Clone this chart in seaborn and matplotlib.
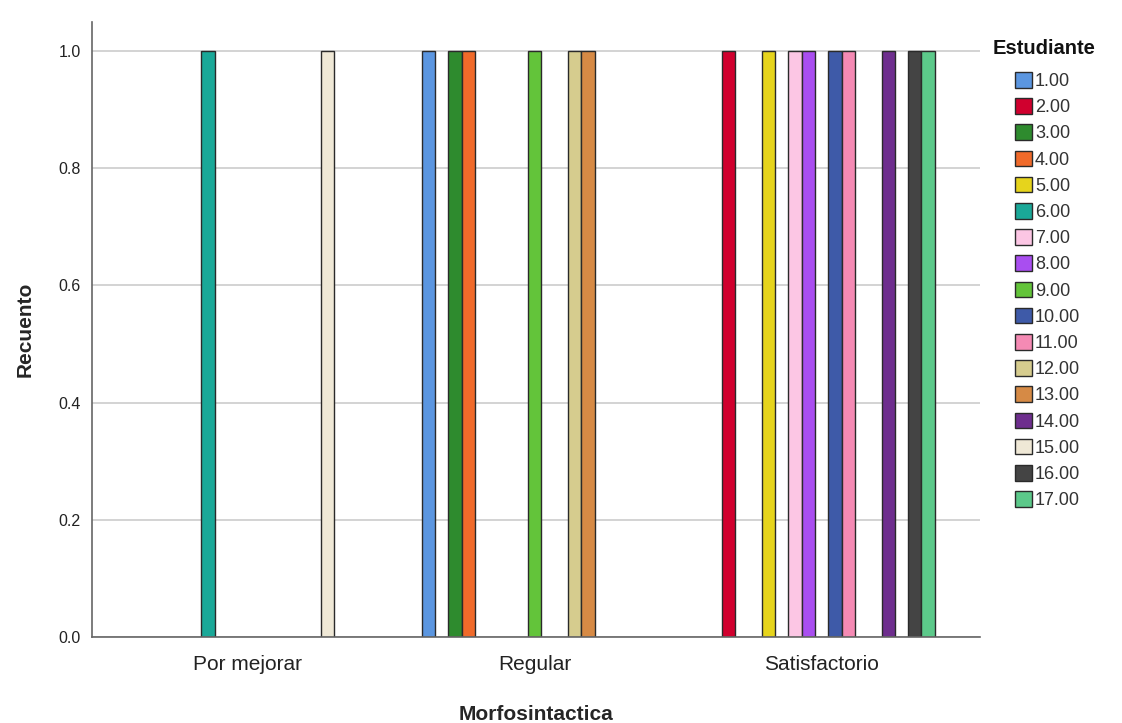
import matplotlib
matplotlib.use("Agg")
import matplotlib.pyplot as plt
import seaborn as sns
import pandas as pd

# data
categorias = ["Por mejorar", "Regular", "Satisfactorio"]
estudiantes = ["%.2f" % i for i in range(1, 18)]
categoria_por_estudiante = [
    "Regular", "Satisfactorio", "Regular", "Regular", "Satisfactorio",
    "Por mejorar", "Satisfactorio", "Satisfactorio", "Regular", "Satisfactorio",
    "Satisfactorio", "Regular", "Regular", "Satisfactorio", "Por mejorar",
    "Satisfactorio", "Satisfactorio",
]
recuento = [1] * 17

colores = [
    "#5b96e0", "#d0002e", "#2e8b2e", "#f06a2a", "#e6d41c", "#1aa898",
    "#fcc6e4", "#a94ef0", "#63c43a", "#3e5aa8", "#f58ab4", "#d6cc8e",
    "#d68a45", "#6e2e8e", "#efe8d6", "#444444", "#5cc98a",
]

df = pd.DataFrame({
    "Morfosintactica": categoria_por_estudiante,
    "Estudiante": estudiantes,
    "Recuento": recuento,
})

sns.set_style("white")
plt.rcParams["font.family"] = ["Liberation Sans", "DejaVu Sans"]

fig = plt.figure(figsize=(11.22, 7.23), dpi=100)
ax = fig.add_axes([0.082, 0.119, 0.791, 0.851])

sns.barplot(data=df, x="Morfosintactica", y="Recuento", hue="Estudiante",
            order=categorias, hue_order=estudiantes, palette=colores,
            width=0.788, saturation=1, errorbar=None, edgecolor="#2a2a2a",
            linewidth=1, ax=ax)

ax.set_ylim(0, 1.05)
ax.set_xlim(-0.543, 2.55)
ax.set_yticks([0.0, 0.2, 0.4, 0.6, 0.8, 1.0])
ax.set_yticklabels(["0.0", "0.2", "0.4", "0.6", "0.8", "1.0"], fontsize=11.5, color="#222222")
ax.tick_params(axis="x", labelsize=15, length=0, pad=13, colors="#222222")
ax.tick_params(axis="y", length=0, pad=8)
ax.grid(axis="y", color="#cccccc", linewidth=1.2)
ax.set_axisbelow(True)
for s in ["top", "right"]:
    ax.spines[s].set_visible(False)
for s in ["left", "bottom"]:
    ax.spines[s].set_color("#666666")
    ax.spines[s].set_linewidth(1.2)

ax.set_xlabel("Morfosintactica", fontsize=15, fontweight="bold", labelpad=22)
ax.set_ylabel("Recuento", fontsize=15, fontweight="bold", labelpad=17)

fig.text(993 / 1122, 1 - 48 / 723, "Estudiante", fontsize=14.5, fontweight="bold",
         ha="left", va="center", color="#111111")
leg = ax.legend(loc="upper left", bbox_to_anchor=(1015 / 1122, 1 - 72 / 723),
                bbox_transform=fig.transFigure, frameon=False, fontsize=13,
                handlelength=0.95, handleheight=0.95, handletextpad=0.15,
                labelspacing=0.455, borderaxespad=0, borderpad=0)
for t in leg.get_texts():
    t.set_color("#333333")

fig.savefig("out.png", dpi=100, facecolor="white")
